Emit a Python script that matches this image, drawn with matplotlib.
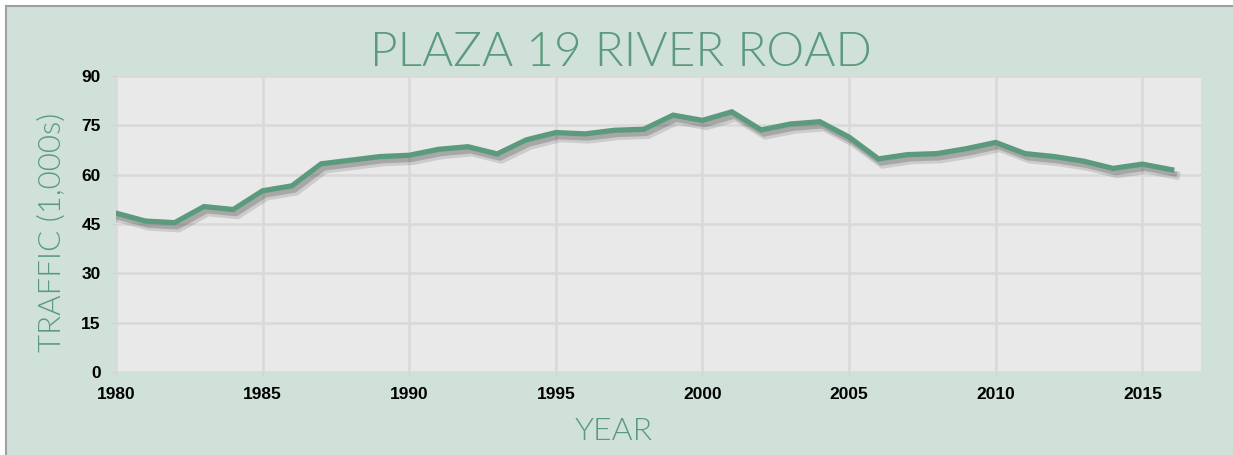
import numpy as np
import matplotlib
matplotlib.use("Agg")
import matplotlib.pyplot as plt
import matplotlib.patheffects as pe
from matplotlib.lines import Line2D

# Traffic counts (thousands of vehicles)
years = list(range(1980, 2017))
traffic = [48.3, 45.9, 45.4, 50.3, 49.4, 55.1, 56.6, 63.3, 64.4, 65.5,
           65.9, 67.7, 68.5, 66.3, 70.6, 72.8, 72.4, 73.5, 73.8, 78.1,
           76.5, 79.1, 73.6, 75.4, 76.1, 71.4, 64.8, 66.1, 66.4, 67.9,
           69.8, 66.4, 65.5, 64.1, 61.9, 63.2, 61.5]
x_ticks = [1980, 1985, 1990, 1995, 2000, 2005, 2010, 2015]
y_ticks = [0, 15, 30, 45, 60, 75, 90]

bg_green = '#cfe1d9'
plot_grey = '#e9e9e9'
grid_grey = '#d9d9d9'
line_green = '#5b9a7d'

fig = plt.figure(figsize=(12.33, 4.55), dpi=100, facecolor='white')

# green panel with a grey border on the top and left
fig.patches.append(plt.Rectangle((6 / 1233, 0), 1, 1 - 6 / 455, transform=fig.transFigure,
                                 facecolor=bg_green, edgecolor='none', zorder=-5))
fig.lines.append(Line2D([5.5 / 1233, 5.5 / 1233], [0, 1 - 5.5 / 455], transform=fig.transFigure,
                        color='#a0a0a0', lw=1.5, zorder=-4))
fig.lines.append(Line2D([5.5 / 1233, 1], [1 - 5.5 / 455, 1 - 5.5 / 455], transform=fig.transFigure,
                        color='#a0a0a0', lw=1.5, zorder=-4))

ax = fig.add_axes([116 / 1233, 1 - 372 / 455, (1201 - 116) / 1233, (372 - 76) / 455])
ax.set_facecolor(plot_grey)

# soft drop shadow under the line
ax.plot(years, traffic, color=line_green, lw=3.8, solid_joinstyle='miter', zorder=3,
        path_effects=[pe.SimpleLineShadow(offset=(3, -4), shadow_color='black', alpha=0.12, linewidth=6),
                      pe.SimpleLineShadow(offset=(2, -3), shadow_color='black', alpha=0.18),
                      pe.Normal()])

ax.set_xlim(1980, 2017)
ax.set_ylim(0, 90)
ax.set_xticks(x_ticks)
ax.set_yticks(y_ticks)
ax.set_xticks(years, minor=True)
ax.grid(True, which='major', color=grid_grey, lw=1.8, zorder=1)
ax.set_axisbelow(True)
for s in ax.spines.values():
    s.set_visible(False)

tick_font = dict(family=['Liberation Sans', 'DejaVu Sans'], weight='bold', size=12.5)
ax.set_xticklabels([str(t) for t in x_ticks], **tick_font)
ax.set_yticklabels([str(t) for t in y_ticks], **tick_font)
ax.tick_params(axis='both', which='major', length=3, color='#d0d0d0', pad=8)
ax.tick_params(axis='x', which='minor', length=2, color='#d8d8d8')

title_font = dict(family=['Lato', 'DejaVu Sans'], weight=300, color=line_green)
fig.text(621 / 1233, 1 - 66 / 455, 'PLAZA 19 RIVER ROAD', ha='center', va='baseline',
         size=34.5, **title_font)
fig.text(614 / 1233, 1 - 440 / 455, 'YEAR', ha='center', va='baseline', size=23, **title_font)
fig.text(52 / 1233, 1 - 232 / 455, 'TRAFFIC (1,000s)', ha='center', va='center', rotation=90,
         size=22.5, **title_font)

fig.savefig('out.png', dpi=100, facecolor='white')
